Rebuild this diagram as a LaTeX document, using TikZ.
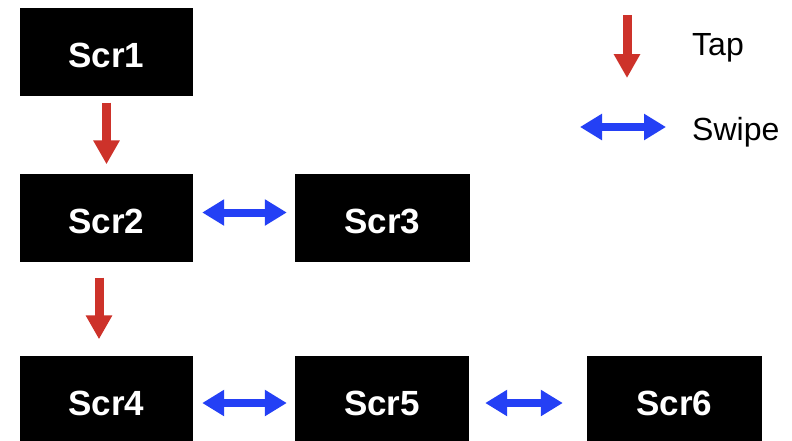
\documentclass[tikz,border=0pt]{standalone}
\usepackage{fontspec}
\setmainfont{Liberation Sans}
\usetikzlibrary{arrows.meta}
\definecolor{tapred}{RGB}{205,50,42}
\definecolor{swipeblue}{RGB}{36,64,245}
\tikzset{
  scr/.style={fill=black, text=white, inner sep=0pt, minimum height=88pt,
    text height=31pt, text depth=0pt,
    font=\fontsize{35}{40}\selectfont\bfseries},
  tap/.style={draw=tapred, line width=9pt, -{Triangle[width=25pt,length=24pt]}, tapred},
  swipe/.style={draw=swipeblue, line width=8pt,
    {Triangle[width=25pt,length=22pt]}-{Triangle[width=25pt,length=22pt]}, swipeblue},
  legendtext/.style={anchor=base west, inner sep=0pt, font=\fontsize{32}{36}\selectfont}
}
\begin{document}
\begin{tikzpicture}[x=1pt,y=-1pt]
\clip (0,0) rectangle (792,440);
\fill[white] (0,0) rectangle (792,440);
\node[scr, minimum width=173pt] (s1) at (106.5,51.5) {Scr1};
\node[scr, minimum width=173pt] (s2) at (106.5,217.5) {Scr2};
\node[scr, minimum width=175pt] (s3) at (382.5,217.5) {Scr3};
\node[scr, minimum width=173pt] (s4) at (106.5,399.5) {Scr4};
\node[scr, minimum width=174pt] (s5) at (382,399.5) {Scr5};
\node[scr, minimum width=175pt] (s6) at (674.5,399.5) {Scr6};
% connectors
\draw[tap, shorten <=7pt, shorten >=9pt] (s1.south) -- (s2.north);
\draw[tap, shorten <=16pt, shorten >=16pt] ([xshift=-7.5pt]s2.south) -- ([xshift=-7.5pt]s4.north);
\draw[swipe, shorten <=9pt, shorten >=8pt] ([yshift=5pt]s2.east) -- ([yshift=5pt]s3.west);
\draw[swipe, shorten <=9pt, shorten >=8pt] ([yshift=-3.5pt]s4.east) -- ([yshift=-3.5pt]s5.west);
\draw[swipe, shorten <=16pt, shorten >=24pt] ([yshift=-3.5pt]s5.east) -- ([yshift=-3.5pt]s6.west);
% legend
\coordinate (tapa) at (627,15);
\coordinate (tapb) at (627,78);
\coordinate (swa) at (580,127);
\coordinate (swb) at (666,127);
\draw[tap] (tapa) -- (tapb);
\draw[swipe] (swa) -- (swb);
\node[legendtext] (taptext) at (692,55) {Tap};
\node[legendtext] (swipetext) at (692,140) {Swipe};
\end{tikzpicture}
\end{document}
